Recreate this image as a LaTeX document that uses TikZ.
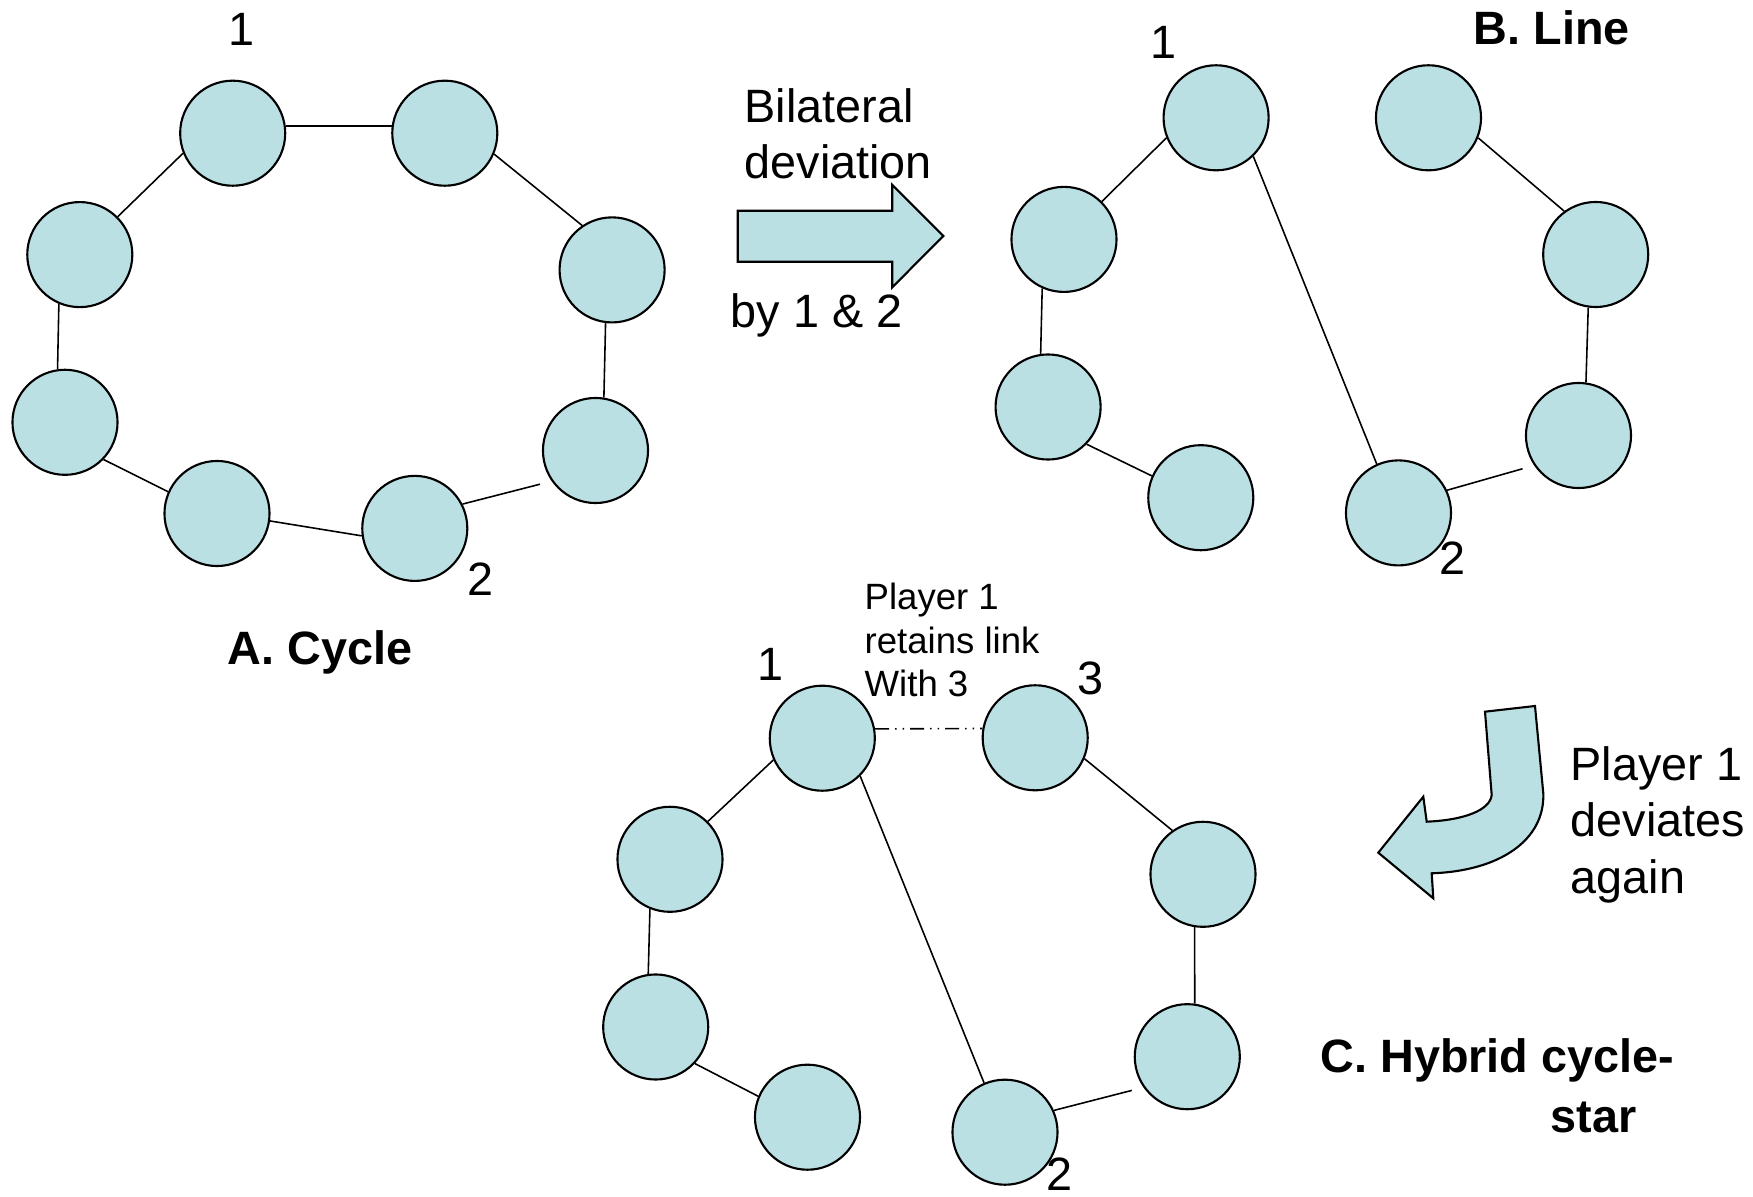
\documentclass[tikz,border=0pt]{standalone}
\usepackage{fontspec}
\setmainfont{Liberation Sans}
\usetikzlibrary{positioning}

\definecolor{playerfill}{HTML}{BBE0E3}

\tikzset{
  player/.style={draw, circle, fill=playerfill, line width=0.6pt,
                 minimum size=1.05cm, inner sep=0pt},
  link/.style={line width=0.45pt},
  bigtext/.style={font=\fontsize{13.3}{16}\selectfont, inner sep=0pt},
  titletext/.style={font=\fontsize{13.3}{16}\selectfont\bfseries, inner sep=0pt},
  smalltext/.style={font=\fontsize{10.4}{12.4}\selectfont, inner sep=0pt},
  bigarrow/.style={draw, fill=playerfill, line width=0.6pt, line join=miter}
}

\begin{document}
\begin{tikzpicture}[x=0.01cm, y=-0.01cm]
\useasboundingbox (0,0) rectangle (1753,1197);

% A. Cycle
\node[player] (A1) at (232.7,133.2) {};
\node[player] (A2) at (444.8,133.2) {};
\node[player] (A3) at (79.8,254.6) {};
\node[player] (A4) at (612.1,269.9) {};
\node[player] (A5) at (65.0,422.3) {};
\node[player] (A6) at (595.5,450.5) {};
\node[player] (A7) at (217.0,513.5) {};
\node[player] (A8) at (414.8,528.4) {};

\node[bigtext, anchor=base] (numA1) at (242,46) {1};
\node[bigtext, anchor=base] (numA2) at (481,596) {2};
\node[titletext, anchor=base] (titleA) at (320,665) {A. Cycle};

\draw [link] (A1.8) -- (A2.172);
\draw [link] (A1.202) -- (A3.45);
\draw [link] (A2.-23) -- (A4.124);
\draw [link] (A3.247) -- (A5.98);
\draw [link] (A4.263) -- (A6.81);
\draw [link] (A5.-44) -- (A7.156);
\draw [link] (A7.-8) -- (A8.188);
\draw [link, shorten >=0.12cm] (A8.27) -- (A6.215);

% bilateral deviation arrow
\draw [bigarrow] (737.7,210.7) -- (892.3,210.7) -- (892.3,185) -- (943.3,236)
      -- (892.3,287.3) -- (892.3,261.7) -- (737.7,261.7) -- cycle;
\node[bigtext, align=left, anchor=north west] (devtext) at (744,88) {Bilateral\\deviation};
\node[bigtext, anchor=base west] (bytext) at (730,328) {by 1 \& 2};

% B. Line
\node[player] (B1) at (1216.1,117.8) {};
\node[player] (B2) at (1064.0,239.4) {};
\node[player] (B3) at (1048.1,407.0) {};
\node[player] (B4) at (1200.8,497.7) {};
\node[player] (B5) at (1428.5,117.8) {};
\node[player] (B6) at (1595.7,254.5) {};
\node[player] (B7) at (1578.5,435.5) {};
\node[player] (B8) at (1398.5,512.9) {};

\node[bigtext, anchor=base] (numB1) at (1164,59) {1};
\node[bigtext, anchor=base] (numB2) at (1453,575) {2};
\node[titletext, anchor=base west] (titleB) at (1473,45) {B. Line};

\draw [link] (B1.202) -- (B2.45);
\draw [link] (B2.246) -- (B3.98);
\draw [link] (B3.-44) -- (B4.156);
\draw [link] (B1.-46) -- (B8.114);
\draw [link] (B5.-22) -- (B6.126);
\draw [link] (B6.262) -- (B7.82);
\draw [link, shorten <=0.12cm] (B7.214) -- (B8.25);

% deviates again arrow
\draw [bigarrow] (1485,711.7) -- (1535,706) -- (1543.3,793.3)
      .. controls (1545,840) and (1500,871) .. (1431.7,873.3)
      -- (1433.3,898.3) -- (1378.3,852.7) -- (1423.3,796.7) -- (1426.7,821.7)
      .. controls (1465,820) and (1490,810) .. (1491.7,795) -- cycle;
\node[bigtext, align=left, anchor=north west] (againtext) at (1570,746) {Player 1\\deviates\\again};

% C. Hybrid cycle-star
\node[player] (C1) at (822.3,738.2) {};
\node[player] (C2) at (670.0,859.3) {};
\node[player] (C3) at (1035.2,737.8) {};
\node[player] (C4) at (1203.0,874.3) {};
\node[player] (C5) at (655.7,1027.0) {};
\node[player] (C6) at (1187.3,1056.7) {};
\node[player] (C7) at (807.5,1117.2) {};
\node[player] (C8) at (1005.0,1132.2) {};

\node[bigtext, anchor=base] (numC1) at (771,681) {1};
\node[bigtext, anchor=base] (numC3) at (1091,695) {3};
\node[bigtext, anchor=base] (numC2) at (1060,1190) {2};
\node[smalltext, align=left, anchor=north west] (retaintext) at (864,582.5) {Player 1\\retains link\\With 3};
\node[titletext, anchor=base west] (titleC) at (1320,1073) {C. Hybrid cycle-};
\node[titletext, anchor=base west] (titleCstar) at (1550,1132) {star};

\draw [link] (C1.204) -- (C2.45);
\draw [link] (C2.248) -- (C5.98);
\draw [link] (C5.-43) -- (C7.157);
\draw [link] (C1.-45) -- (C8.113);
\draw [link] (C3.-23) -- (C4.125);
\draw [link] (C4.261) -- (C6.82);
\draw [link, shorten <=0.12cm] (C6.215) -- (C8.24);
\draw [link, dash pattern=on 0.14cm off 0.06cm on 0.015cm off 0.06cm on 0.015cm off 0.06cm]
      (C1.10) -- (C3.170);
\end{tikzpicture}
\end{document}
